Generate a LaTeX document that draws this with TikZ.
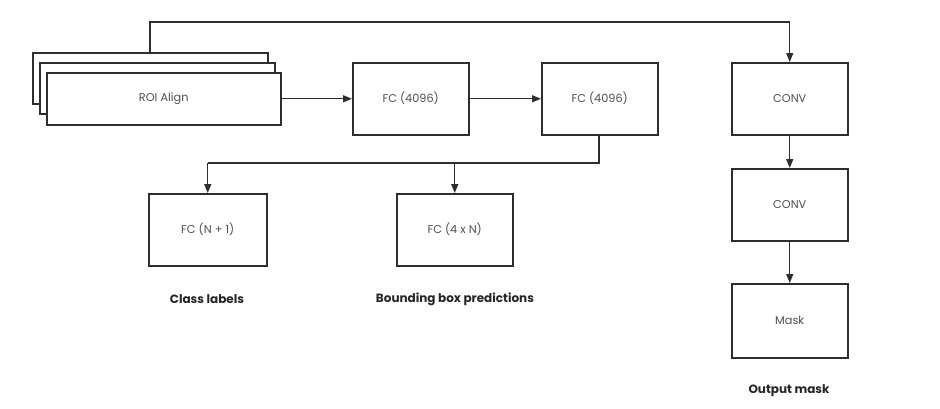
\documentclass[tikz,border=0pt]{standalone}
\usepackage{fontspec}
\setmainfont{Poppins}
\usetikzlibrary{arrows.meta}
\definecolor{linec}{HTML}{2E2E2E}
\definecolor{txtc}{HTML}{505050}
\tikzset{
  blk/.style={draw=linec, line width=1.5pt, fill=white, inner sep=0pt, text=txtc, font=\fontsize{11.3}{13}\selectfont},
  captxt/.style={font=\fontsize{12}{14}\selectfont\bfseries, text=black!85},
  conn/.style={draw=linec, line width=1.4pt},
  arr/.style={conn, -{Triangle[length=9pt,width=7pt]}},
}
\begin{document}
\begin{tikzpicture}[x=1pt,y=-1pt]
\useasboundingbox (0,0) rectangle (940,408);
% ROI stack
\node[blk, minimum width=235pt, minimum height=51pt, anchor=north west] (roi3) at (32,52) {};
\node[blk, minimum width=235pt, minimum height=51pt, anchor=north west] (roi2) at (39,62) {};
\node[blk, minimum width=234pt, minimum height=52pt, anchor=north west] (roi) at (46,72) {ROI Align};
% FC boxes
\node[blk, minimum width=116pt, minimum height=72pt, anchor=north west] (fc1) at (352,62) {FC (4096)};
\node[blk, minimum width=116pt, minimum height=72pt, anchor=north west] (fc2) at (541,62) {FC (4096)};
\node[blk, minimum width=118pt, minimum height=72pt, anchor=north west] (cls) at (148,193) {FC (N + 1)};
\node[blk, minimum width=116pt, minimum height=72pt, anchor=north west] (bbx) at (396,193) {FC (4 x N)};
% mask branch
\node[blk, minimum width=116pt, minimum height=72pt, anchor=north west] (cv1) at (731,62) {CONV};
\node[blk, minimum width=116pt, minimum height=72pt, anchor=north west] (cv2) at (731,168) {CONV};
\node[blk, minimum width=116pt, minimum height=74pt, anchor=north west] (msk) at (731,283) {Mask};
% captions
\node[captxt] (lcls) at (207,299) {Class labels};
\node[captxt] (lbbx) at (455,299) {Bounding box predictions};
\node[captxt] (lmsk) at (789,391) {Output mask};
% connectors
\coordinate (top1) at (150,22);
\coordinate (split) at (599,163);
\draw[arr] (roi.east) -- (fc1.west);
\draw[arr] (fc1.east) -- (fc2.west);
\draw[arr] (roi3.north west -| top1) -- (top1) -| (cv1.north);
\draw[conn] (fc2.south -| split) -- (split) -- (split -| cls.north);
\draw[arr] (split -| cls.north) -- (cls.north);
\draw[arr] (split -| bbx.north) -- (bbx.north);
\draw[arr] (cv1.south) -- (cv2.north);
\draw[arr] (cv2.south) -- (msk.north);
\end{tikzpicture}
\end{document}
